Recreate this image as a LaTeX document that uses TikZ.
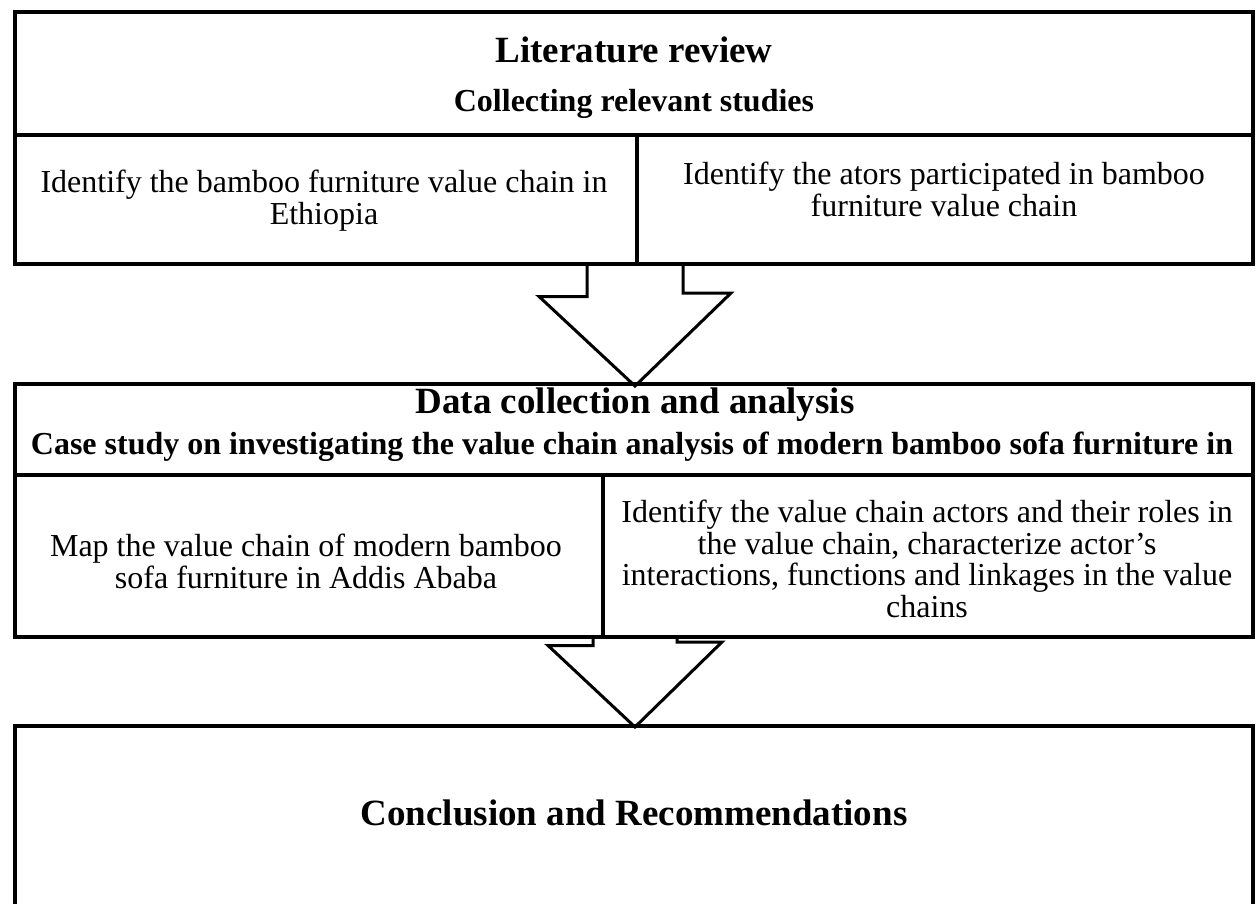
\documentclass[tikz,border=0pt]{standalone}
\usepackage{fontspec}
\setmainfont{Liberation Serif}
\usetikzlibrary{calc}

\begin{document}
\begin{tikzpicture}[x=1pt, y=-1pt,
    frame/.style={draw, line width=3.5pt, inner sep=0pt, anchor=north west},
    heading/.style={font=\bfseries\fontsize{37}{40}\selectfont, inner sep=0pt, anchor=base},
    subheading/.style={font=\bfseries\fontsize{32}{36}\selectfont, inner sep=0pt, anchor=base},
    celltext/.style={font=\fontsize{32}{31.5}\selectfont, align=center, inner sep=0pt, anchor=north},
    blockarrow/.style={draw, line width=3pt, line join=miter}]

\useasboundingbox (0,0) rectangle (1260,903);
\clip (0,0) rectangle (1260,903);

% Literature review
\node[frame, minimum width=1238pt, minimum height=123pt] (lit) at (13,10) {};
\node[frame, minimum width=622pt, minimum height=129pt] (litchain) at (13,133) {};
\node[frame, minimum width=616pt, minimum height=129pt] (litactors) at (635,133) {};
\node[heading] (littitle) at (634,62) {Literature review};
\node[subheading] (litsub) at (634,111) {Collecting relevant studies};
\node[celltext] (litchaintext) at (324,170) {Identify the bamboo furniture value chain in\\Ethiopia};
\node[celltext] (litactorstext) at (944,162) {Identify the ators participated in bamboo\\furniture value chain};

% Data collection and analysis
\node[frame, minimum width=1238pt, minimum height=91pt] (data) at (13,382) {};
\node[frame, minimum width=588pt, minimum height=162pt] (datamap) at (13,473) {};
\node[frame, minimum width=650pt, minimum height=162pt] (dataactors) at (601,473) {};
\node[heading] (datatitle) at (635,413) {Data collection and analysis};
\node[subheading] (datasub) at (632,454) {Case study on investigating the value chain analysis of modern bamboo sofa furniture in};
\node[celltext] (datamaptext) at (306,534) {Map the value chain of modern bamboo\\sofa furniture in Addis Ababa};
\node[celltext] (dataactorstext) at (927,500) {Identify the value chain actors and their roles in\\the value chain, characterize actor’s\\interactions, functions and linkages in the value\\chains};

% Conclusion
\node[frame, minimum width=1238pt, minimum height=260pt] (concl) at (13,724) {};
\node[heading] (concltext) at (634,825) {Conclusion and Recommendations};

% block arrows
\coordinate (mid) at (litactors.south west);
\draw[blockarrow] ([xshift=-48pt]mid) -- ++(0,31) -- ++(-48,0)
    -- ($(mid |- data.north)+(0,4)$) -- ++(96,-93) -- ++(-48,0) -- ++(0,-31);
\draw[blockarrow] ($(mid |- datamap.south)+(-42,0)$) -- ++(0,7) -- ++(-45,0)
    -- ($(mid |- concl.north)+(0,3)$) -- ++(87,-85) -- ++(-45,0) -- ++(0,-7);

\end{tikzpicture}
\end{document}
